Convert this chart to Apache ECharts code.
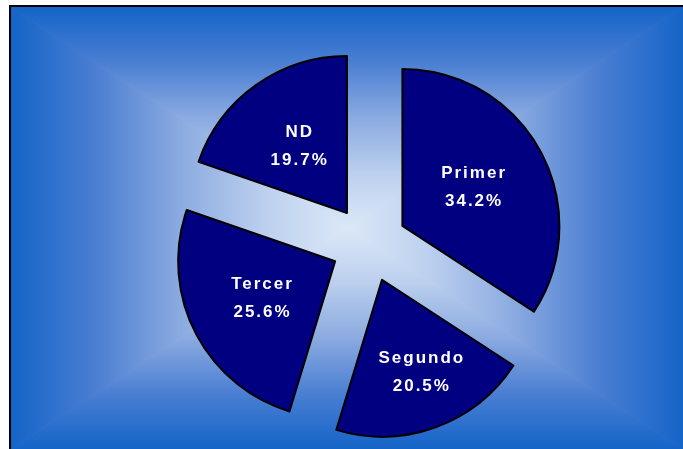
<!DOCTYPE html>
<html>
<head>
<meta charset="utf-8">
<script src="https://cdn.jsdelivr.net/npm/echarts@6/dist/echarts.min.js"></script>
<style>
html, body { margin: 0; padding: 0; background: #fff; }
#main { width: 683px; height: 449px; }
</style>
</head>
<body>
<div id="main"></div>
<script>
var categories = ["Primer", "Segundo", "Tercer", "ND"];
var shares = [34.2, 20.5, 25.6, 19.7];

// the labels in the picture are letter-spaced; canvas can do that natively
var _fillText = CanvasRenderingContext2D.prototype.fillText;
CanvasRenderingContext2D.prototype.fillText = function () {
    if ("letterSpacing" in this) this.letterSpacing = "2px";
    return _fillText.apply(this, arguments);
};

var chart = echarts.init(document.getElementById("main"));

// rectangle "from center" background: four triangles meeting in the middle
var L = 11, T = 7, R = 683, B = 449, cx = (L + R) / 2, cy = (T + B) / 2;
function grad(x, y, x2, y2) {
    return new echarts.graphic.LinearGradient(x, y, x2, y2, [
        {offset: 0, color: "#1464c8"},
        {offset: 0.25, color: "#4a7ed2"},
        {offset: 0.5, color: "#8aaae0"},
        {offset: 0.75, color: "#bbcfee"},
        {offset: 1, color: "#dce8f7"}
    ]);
}
function tri(points, g) {
    return {type: "polygon", silent: true, z: -10, shape: {points: points},
        style: {fill: g, stroke: g, lineWidth: 1}};
}

var option = {
    animation: false,
    graphic: [
        tri([[L, T], [R, T], [cx, cy]], grad(0, 0, 0, 1)),
        tri([[L, B], [R, B], [cx, cy]], grad(0, 1, 0, 0)),
        tri([[L, T], [L, B], [cx, cy]], grad(0, 0, 1, 0)),
        tri([[R, T], [R, B], [cx, cy]], grad(1, 0, 0, 0)),
        {type: "rect", silent: true, z: -9, shape: {x: 10, y: 6, width: 700, height: 470}, style: {fill: null, stroke: "#000", lineWidth: 2}}
    ],
    series: [{
        type: "pie",
        center: [369, 244],
        radius: 157,
        startAngle: 90,
        clockwise: true,
        selectedMode: "multiple",
        selectedOffset: 38,
        itemStyle: {color: "#000080", borderColor: "#000", borderWidth: 2},
        label: {
            show: true,
            position: "inside",
            color: "#fff",
            fontFamily: "Liberation Sans, Arial, sans-serif",
            fontWeight: "bold",
            fontSize: 17,
            lineHeight: 28,
            formatter: function (p) {
                return p.name + "\n" + p.value.toFixed(1) + "%";
            }
        },
        labelLine: {show: false},
        labelLayout: function (p) {
            if (p.dataIndex === 1) return {dx: 12, dy: 16};
        },
        emphasis: {disabled: true},
        select: {itemStyle: {color: "#000080", borderColor: "#000", borderWidth: 2}, label: {color: "#fff"}},
        data: categories.map(function (c, i) {
            return {name: c, value: shares[i], selected: true};
        })
    }]
};
chart.setOption(option);
</script>
</body>
</html>
